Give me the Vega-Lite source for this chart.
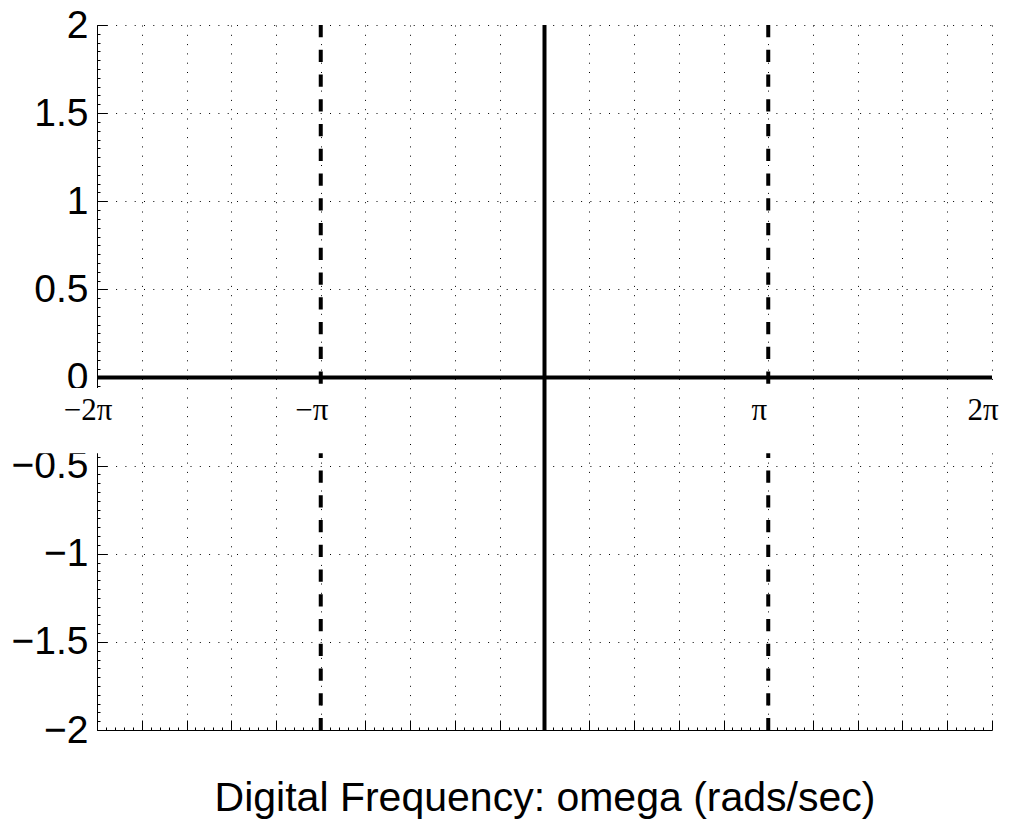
{
  "$schema": "https://vega.github.io/schema/vega-lite/v6.json",
  "width": 895,
  "height": 705,
  "autosize": "none",
  "padding": {"left": 97, "top": 25, "right": 21, "bottom": 97},
  "background": "white",
  "config": {"view": {"stroke": null}},
  "resolve": {"axis": {"x": "independent", "y": "independent"}},
  "datasets": {
    "lines": [
      {"omega_start": -6.2832, "omega_end": 6.2832, "y_start": 0, "y_end": 0, "kind": "solid"},
      {"omega_start": 0, "omega_end": 0, "y_start": 2, "y_end": -2, "kind": "solid"},
      {"omega_start": -3.1416, "omega_end": -3.1416, "y_start": 2, "y_end": -2, "kind": "dashed"},
      {"omega_start": 3.1416, "omega_end": 3.1416, "y_start": 2, "y_end": -2, "kind": "dashed"}
    ],
    "ticklabels": [
      {"omega": -6.2832, "label": "−2π", "lo": -7.25, "hi": -5.95},
      {"omega": -3.1416, "label": "−π", "lo": -3.5, "hi": -2.95},
      {"omega": 3.1416, "label": "π", "lo": 2.95, "hi": 3.5},
      {"omega": 6.2832, "label": "2π", "lo": 5.95, "hi": 6.6}
    ]
  },
  "layer": [
    {
      "data": {"name": "lines"},
      "mark": {"type": "rule", "strokeWidth": 4, "color": "black"},
      "encoding": {
        "x": {
          "field": "omega_start", "type": "quantitative",
          "scale": {"domain": [-6.2832, 6.2832], "nice": false, "zero": false},
          "axis": {
            "values": [-6.2832,-6.1575,-6.0319,-5.9062,-5.7805,-5.6549,-5.5292,-5.4035,-5.2779,-5.1522,-5.0265,-4.9009,-4.7752,-4.6496,-4.5239,-4.3982,-4.2726,-4.1469,-4.0212,-3.8956,-3.7699,-3.6442,-3.5186,-3.3929,-3.2673,-3.1416,-3.0159,-2.8903,-2.7646,-2.6389,-2.5133,-2.3876,-2.2619,-2.1363,-2.0106,-1.885,-1.7593,-1.6336,-1.508,-1.3823,-1.2566,-1.131,-1.0053,-0.8796,-0.754,-0.6283,-0.5027,-0.377,-0.2513,-0.1257,0,0.1257,0.2513,0.377,0.5027,0.6283,0.754,0.8796,1.0053,1.131,1.2566,1.3823,1.508,1.6336,1.7593,1.885,2.0106,2.1363,2.2619,2.3876,2.5133,2.6389,2.7646,2.8903,3.0159,3.1416,3.2673,3.3929,3.5186,3.6442,3.7699,3.8956,4.0212,4.1469,4.2726,4.3982,4.5239,4.6496,4.7752,4.9009,5.0265,5.1522,5.2779,5.4035,5.5292,5.6549,5.7805,5.9062,6.0319,6.1575,6.2832],
            "labels": false,
            "tickSize": {"condition": {"test": "abs(datum.value*5/PI - round(datum.value*5/PI)) < 0.001", "value": -10}, "value": -3},
            "tickColor": "black",
            "domainColor": "black",
            "grid": true,
            "gridColor": "black",
            "gridDash": [1, 8.3],
            "gridOpacity": {"condition": {"test": "abs(datum.value*5/PI - round(datum.value*5/PI)) < 0.001", "value": 1}, "value": 0},
            "title": "Digital Frequency: omega (rads/sec)",
            "titleFont": "Liberation Sans",
            "titleFontSize": 41,
            "titleFontWeight": "normal",
            "titleColor": "black",
            "titlePadding": 48
          }
        },
        "x2": {"field": "omega_end"},
        "y": {
          "field": "y_start", "type": "quantitative",
          "scale": {"domain": [-2, 2], "nice": false, "zero": false},
          "axis": {
            "tickCount": 80,
            "labelExpr": "abs(datum.value*2 - round(datum.value*2)) < 0.000001 ? format(datum.value, '~g') : ''",
            "labelFont": "Liberation Sans",
            "labelFontSize": 39,
            "labelColor": "black",
            "labelOverlap": false,
            "labelPadding": 19,
            "tickSize": {"condition": {"test": "abs(datum.value*2 - round(datum.value*2)) < 0.000001", "value": -10}, "value": -3},
            "tickColor": "black",
            "domainColor": "black",
            "grid": true,
            "gridColor": "black",
            "gridDash": [1, 8.3],
            "gridOpacity": {"condition": {"test": "abs(datum.value*2 - round(datum.value*2)) < 0.000001", "value": 1}, "value": 0},
            "title": null
          }
        },
        "y2": {"field": "y_end"},
        "strokeDash": {
          "field": "kind", "type": "nominal",
          "scale": {"domain": ["solid", "dashed"], "range": [[1, 0], [12.3, 12.45]]},
          "legend": null
        }
      }
    },
    {
      "data": {"name": "ticklabels"},
      "mark": {"type": "rect", "color": "white", "clip": false},
      "encoding": {
        "x": {"field": "lo", "type": "quantitative", "scale": {"domain": [-6.2832, 6.2832], "nice": false, "zero": false}, "axis": null},
        "x2": {"field": "hi"},
        "y": {"datum": -0.06, "type": "quantitative", "scale": {"domain": [-2, 2], "nice": false, "zero": false}, "axis": null},
        "y2": {"datum": -0.43}
      }
    },
    {
      "data": {"name": "ticklabels"},
      "mark": {"type": "text", "font": "Liberation Serif", "fontSize": 31, "color": "black", "align": "center", "baseline": "alphabetic", "dx": -9, "dy": 42, "clip": false},
      "encoding": {
        "x": {"field": "omega", "type": "quantitative", "scale": {"domain": [-6.2832, 6.2832], "nice": false, "zero": false}, "axis": null},
        "y": {"datum": 0, "type": "quantitative", "scale": {"domain": [-2, 2], "nice": false, "zero": false}, "axis": null},
        "text": {"field": "label"}
      }
    }
  ]
}
